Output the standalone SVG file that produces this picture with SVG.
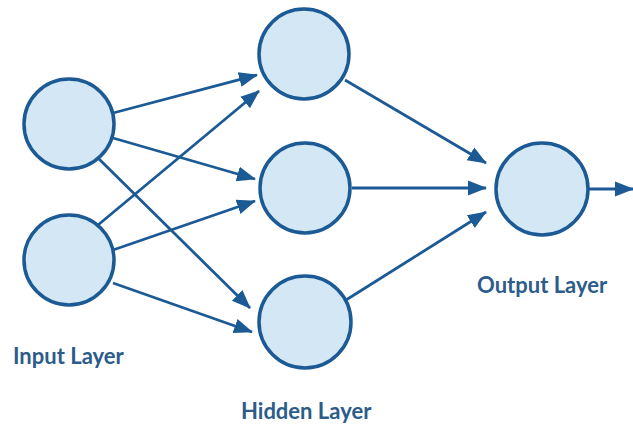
<svg xmlns="http://www.w3.org/2000/svg" width="633" height="426" viewBox="0 0 633 426">
<style>
.node circle{fill:#d3e7f4;stroke:#1c5a95;stroke-width:3.5}
.edges line{stroke:#1c5a95;stroke-width:2.8;marker-end:url(#ah)}
.lbl{font-family:Lato,"Liberation Sans",sans-serif;font-weight:bold;font-size:22px;fill:#2c5c8a}
</style>
<defs>
<marker id="ah" markerUnits="userSpaceOnUse" markerWidth="20" markerHeight="18" refX="18" refY="9" orient="auto">
<path d="M0,1.5 L19,9 L0,16.5 Z" fill="#1c5a95"/>
</marker>
</defs>
<rect width="633" height="426" fill="#ffffff"/>
<g class="edges">
<line x1="113" y1="113" x2="257" y2="75"/>
<line x1="113" y1="138" x2="255" y2="179"/>
<line x1="98" y1="158" x2="250" y2="308"/>
<line x1="98" y1="225" x2="259" y2="91"/>
<line x1="113" y1="250" x2="255" y2="201"/>
<line x1="113" y1="283" x2="252" y2="332"/>
<line x1="345" y1="80" x2="486" y2="163"/>
<line x1="352" y1="188" x2="486" y2="188"/>
<line x1="346" y1="300" x2="486" y2="212"/>
<line x1="589" y1="189" x2="633" y2="189"/>
</g>
<g id="input1" class="node"><circle cx="69" cy="124" r="45"/></g>
<g id="input2" class="node"><circle cx="69" cy="260" r="45"/></g>
<g id="hidden1" class="node"><circle cx="304" cy="54" r="45"/></g>
<g id="hidden2" class="node"><circle cx="305" cy="188" r="45"/></g>
<g id="hidden3" class="node"><circle cx="305" cy="322" r="46"/></g>
<g id="output" class="node"><circle cx="542" cy="189" r="46"/></g>
<text class="lbl" x="13" y="364">Input Layer</text>
<text class="lbl" x="241" y="419">Hidden Layer</text>
<text class="lbl" x="477" y="293">Output Layer</text>
</svg>
